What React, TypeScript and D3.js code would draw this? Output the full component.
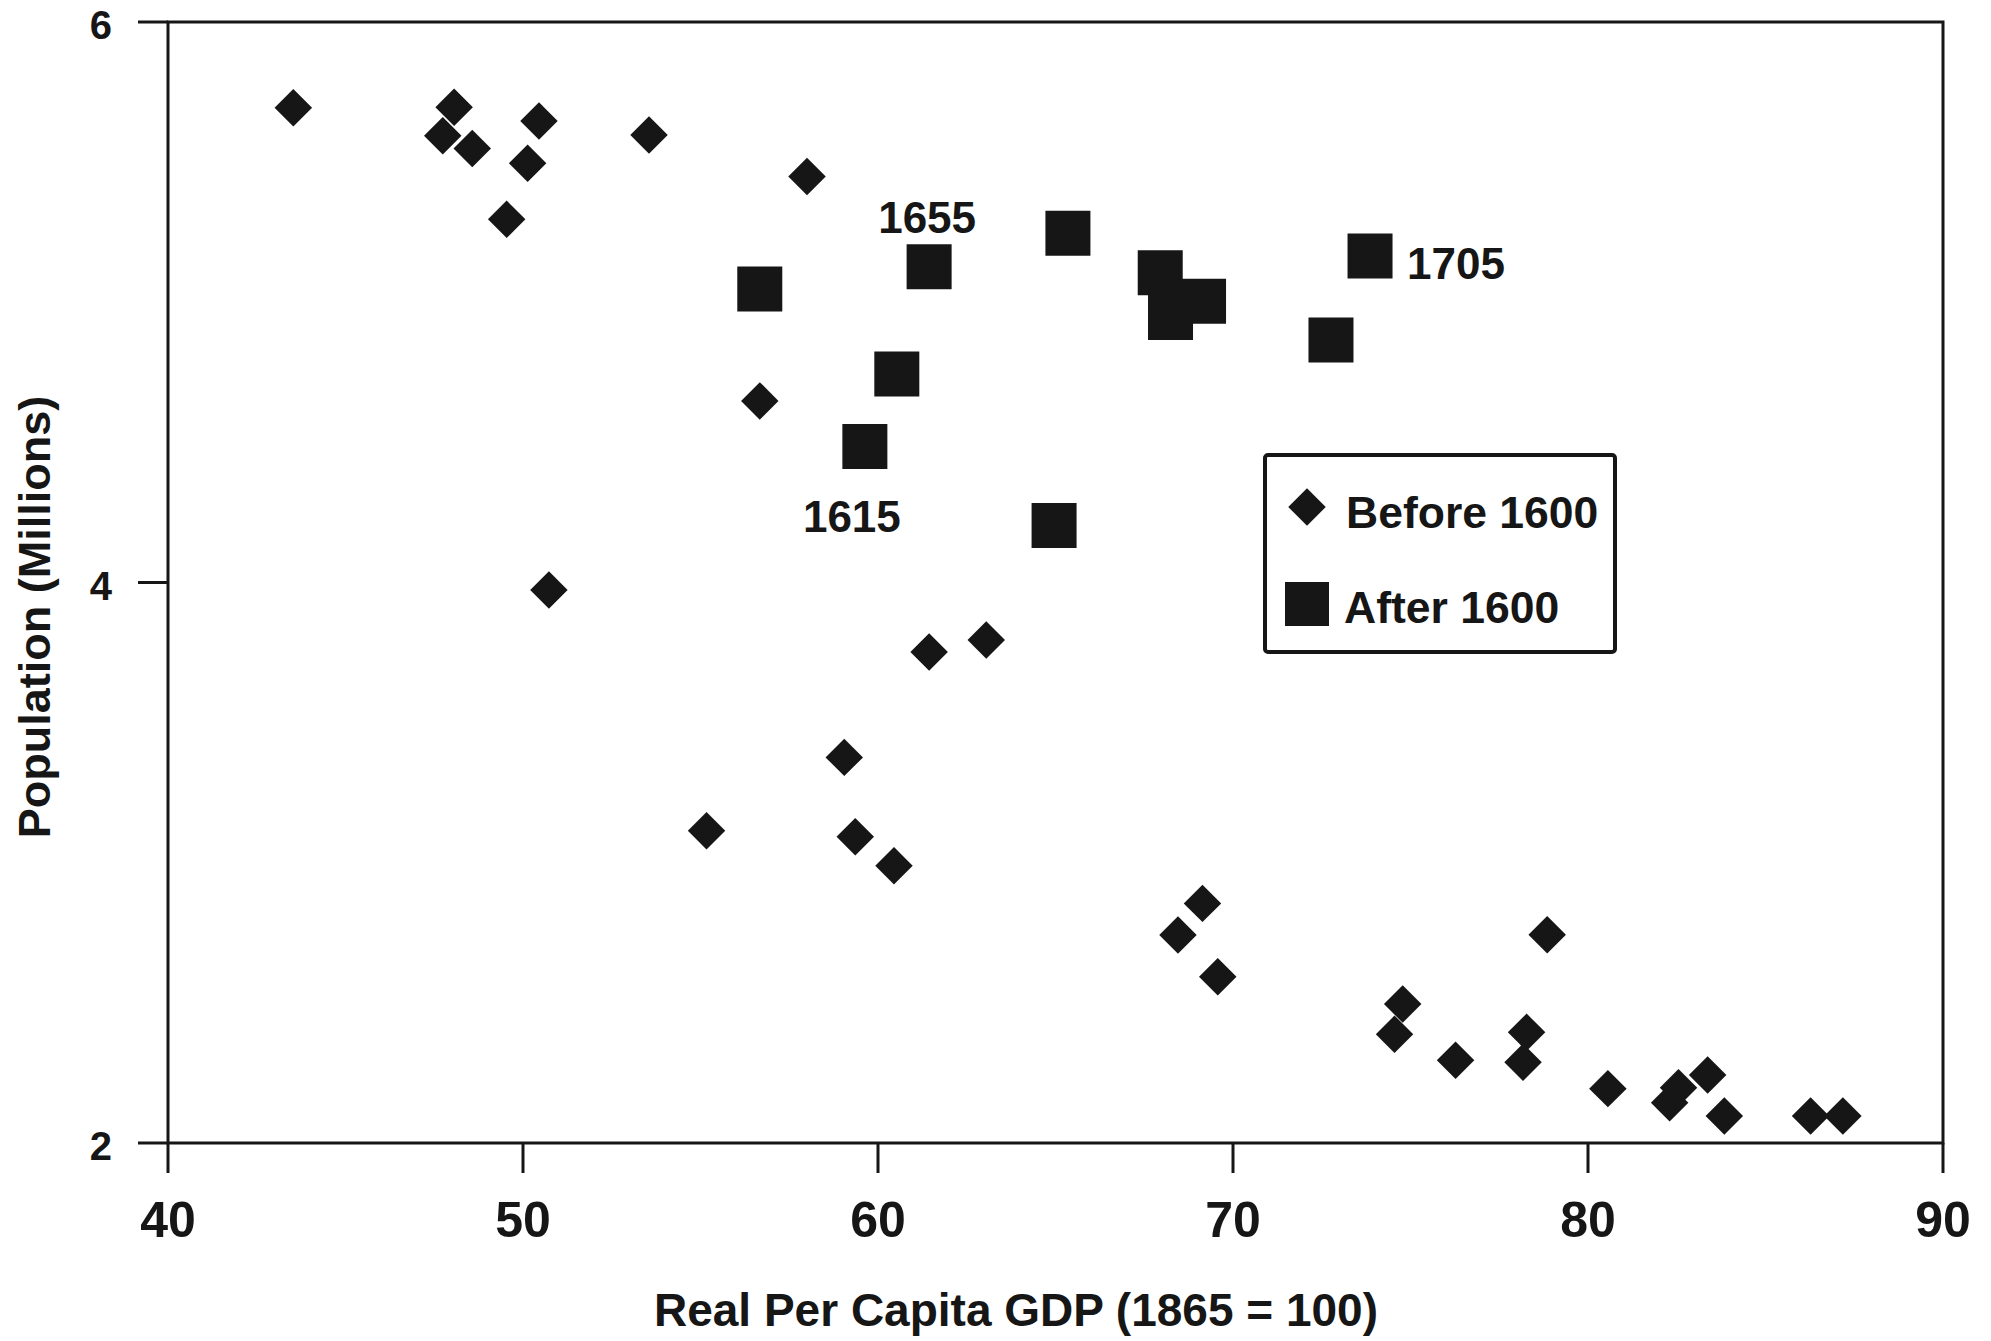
import React, { useEffect } from 'react';
import * as d3 from 'd3';

// ---- Data ----
const xTicks = [40, 50, 60, 70, 80, 90];
const yTicks = [2, 4, 6];

// Before 1600 (diamonds)
const beforeGDP = [
  43.53, 48.06, 47.74, 48.57, 50.45, 50.13, 49.54, 53.55, 58.0, 56.67,
  50.73, 61.44, 63.05, 59.05, 55.17, 59.36, 60.45, 69.14, 68.45, 69.57,
  78.85, 74.78, 74.55, 76.27, 78.27, 78.17, 80.56, 82.55, 82.3, 83.37,
  83.84, 86.27, 87.18,
];
const beforePop = [
  5.694, 5.696, 5.594, 5.549, 5.647, 5.496, 5.296, 5.597, 5.449, 4.648,
  3.973, 3.752, 3.795, 3.376, 3.114, 3.093, 2.989, 2.855, 2.742, 2.593,
  2.743, 2.496, 2.388, 2.295, 2.395, 2.288, 2.194, 2.197, 2.144, 2.243,
  2.096, 2.096, 2.096,
];

// After 1600 (squares)
const afterGDP = [56.67, 61.44, 65.35, 67.95, 68.24, 69.17, 73.86, 72.76, 60.53, 59.63, 64.96];
const afterPop = [5.047, 5.127, 5.246, 5.105, 4.946, 5.004, 5.165, 4.865, 4.744, 4.485, 4.203];

// Year labels attached to "after 1600" points (index into arrays)
const annotationLabels = ['1655', '1705', '1615'];
const annotationIndex = [1, 6, 9];

const legendLabels = ['Before 1600', 'After 1600'];
const xTitle = 'Real Per Capita GDP (1865 = 100)';
const yTitle = 'Population (Millions)';

// ---- Layout ----
const W = 1991;
const H = 1341;
const M = { left: 168, right: 48, top: 22, bottom: 198 };
const INK = '#161616';
const FONT = '"Liberation Sans", Arial, Helvetica, sans-serif';
// offsets (px) of annotation text relative to its point: dx, dy, anchor
const annotationPlacement = [
  { dx: -2, dy: -34, anchor: 'middle' },
  { dx: 37, dy: 23, anchor: 'start' },
  { dx: -13, dy: 85, anchor: 'middle' },
];

export default function App() {
  useEffect(() => {
    document.body.style.margin = '0';
  }, []);

  const x = d3.scaleLinear().domain([40, 90]).range([M.left, W - M.right]);
  const y = d3.scaleLinear().domain([2, 6]).range([H - M.bottom, M.top]);

  const diamondPath = d3.symbol(d3.symbolSquare, 26.5 * 26.5)() as string;
  const squarePath = d3.symbol(d3.symbolSquare, 45 * 45)() as string;
  const legendSquarePath = d3.symbol(d3.symbolSquare, 44 * 44)() as string;

  const x0 = x(40);
  const x1 = x(90);
  const yTop = y(6);
  const yBot = y(2);

  return (
    <svg
      width={W}
      height={H}
      viewBox={`0 0 ${W} ${H}`}
      style={{ display: 'block', position: 'absolute', left: 0, top: 0, background: '#fff' }}
      fontFamily={FONT}
      fontWeight="bold"
    >
      <rect x={0} y={0} width={W} height={H} fill="#fff" />

      {/* frame */}
      <rect
        x={x0}
        y={yTop}
        width={x1 - x0}
        height={yBot - yTop}
        fill="none"
        stroke={INK}
        strokeWidth={3}
      />

      {/* x ticks */}
      {xTicks.map((t) => (
        <g key={'xt' + t}>
          <line x1={x(t)} x2={x(t)} y1={yBot} y2={yBot + 30} stroke={INK} strokeWidth={3} />
          <text x={x(t)} y={yBot + 94} textAnchor="middle" fontSize={50} fill={INK}>
            {t}
          </text>
        </g>
      ))}

      {/* y ticks */}
      {yTicks.map((t) => (
        <g key={'yt' + t}>
          <line x1={x0 - 30} x2={x0} y1={y(t)} y2={y(t)} stroke={INK} strokeWidth={3} />
          <text x={112} y={y(t) + 17} textAnchor="end" fontSize={40} fill={INK}>
            {t}
          </text>
        </g>
      ))}

      {/* axis titles */}
      <text x={1016} y={1326} textAnchor="middle" fontSize={46} fill={INK}>
        {xTitle}
      </text>
      <text
        transform="translate(50,617) rotate(-90)"
        textAnchor="middle"
        fontSize={45}
        fill={INK}
      >
        {yTitle}
      </text>

      {/* before 1600 diamonds */}
      {beforeGDP.map((g, i) => (
        <path
          key={'b' + i}
          d={diamondPath}
          transform={`translate(${x(g)},${y(beforePop[i])}) rotate(45)`}
          fill={INK}
        />
      ))}

      {/* after 1600 squares */}
      {afterGDP.map((g, i) => (
        <path
          key={'a' + i}
          d={squarePath}
          transform={`translate(${x(g)},${y(afterPop[i])})`}
          fill={INK}
        />
      ))}

      {/* annotations */}
      {annotationLabels.map((lab, k) => {
        const idx = annotationIndex[k];
        const p = annotationPlacement[k];
        return (
          <text
            key={'an' + k}
            x={x(afterGDP[idx]) + p.dx}
            y={y(afterPop[idx]) + p.dy}
            textAnchor={p.anchor as any}
            fontSize={44}
            fill={INK}
          >
            {lab}
          </text>
        );
      })}

      {/* legend */}
      <g>
        <rect x={1265} y={455} width={350} height={197} rx={3} fill="#fff" stroke={INK} strokeWidth={4} />
        <path d={diamondPath} transform="translate(1307,507) rotate(45)" fill={INK} />
        <text x={1346} y={528} fontSize={44.5} fill={INK}>
          {legendLabels[0]}
        </text>
        <path d={legendSquarePath} transform="translate(1307,604)" fill={INK} />
        <text x={1344} y={623} fontSize={44.5} fill={INK}>
          {legendLabels[1]}
        </text>
      </g>
    </svg>
  );
}
